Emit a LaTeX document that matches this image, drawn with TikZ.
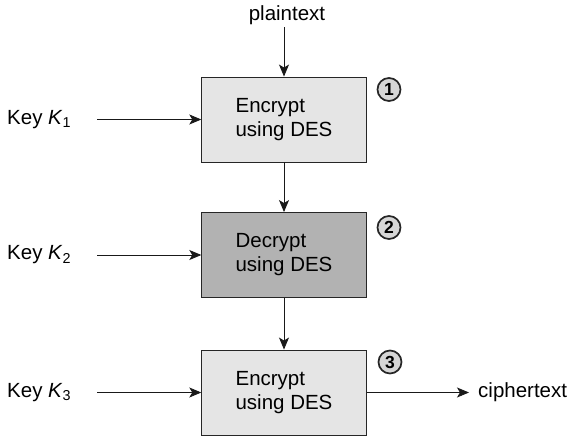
\documentclass[tikz,border=0pt]{standalone}
\usepackage{fontspec}
\setmainfont{Liberation Sans}
\usetikzlibrary{arrows.meta}
\begin{document}
\begin{tikzpicture}[x=1pt,y=1pt,
  font=\fontsize{20.5}{24}\selectfont,
  desbox/.style={draw=black!85, line width=0.9pt, minimum width=164.5pt, minimum height=85pt, align=left, inner sep=0pt},
  lightbox/.style={desbox, fill=black!10},
  darkbox/.style={desbox, fill=black!30},
  stepnum/.style={circle, draw=black!85, line width=1.7pt, fill=black!16, minimum size=23pt, inner sep=0pt, font=\fontsize{17.5}{17.5}\selectfont\bfseries},
  arr/.style={-{Stealth[length=12pt, width=10pt, inset=3pt]}, line width=0.85pt, draw=black!90},
  lbl/.style={inner sep=0pt}
]
\useasboundingbox (0,0) rectangle (572,437);

% the three DES stages
\node[lightbox] (enc1) at (284,317.5) {Encrypt\\using DES};
\node[darkbox]  (dec2) at (284,182)   {Decrypt\\using DES};
\node[lightbox] (enc3) at (284,44.5)  {Encrypt\\using DES};

% step numbers
\node[stepnum] (n1) at (389,347.5) {1};
\node[stepnum] (n2) at (389,209.5) {2};
\node[stepnum] (n3) at (390,75)    {3};

% keys
\node[lbl, anchor=west] (k1) at (7,317.5) {Key \textit{K}\textsubscript{1}};
\node[lbl, anchor=west] (k2) at (7,182)   {Key \textit{K}\textsubscript{2}};
\node[lbl, anchor=west] (k3) at (7,44.5)  {Key \textit{K}\textsubscript{3}};
\coordinate (k1s) at (97,317.5);
\coordinate (k2s) at (97,182);
\coordinate (k3s) at (97,44.5);

% input and output
\node[lbl, anchor=base] (pt) at (287,416) {plaintext};
\node[lbl, anchor=west, inner xsep=9pt] (ct) at (469,44.5) {ciphertext};

% data flow
\draw[arr] (enc1.north |- pt.south) ++(0,-2) -- (enc1.north);
\draw[arr] (enc1) -- (dec2);
\draw[arr] (dec2) -- (enc3);
\draw[arr] (enc3.east) -- (ct.west);
\draw[arr] (k1s) -- (enc1.west);
\draw[arr] (k2s) -- (dec2.west);
\draw[arr] (k3s) -- (enc3.west);
\end{tikzpicture}
\end{document}
